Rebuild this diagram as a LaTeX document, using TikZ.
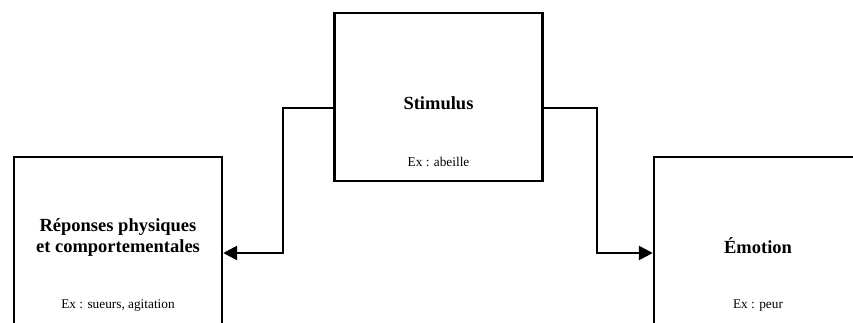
\documentclass[tikz,border=0pt]{standalone}
\usepackage{fontspec}
\setmainfont{Liberation Serif}
\usetikzlibrary{arrows.meta}
\begin{document}
\begin{tikzpicture}[x=1pt,y=-1pt,
  box/.style={draw, line width=2.4pt, minimum width=208pt, minimum height=168pt, inner sep=0pt},
  title/.style={font=\fontsize{18.5}{21}\selectfont\bfseries, align=center, inner sep=0pt},
  example/.style={font=\fontsize{13.3}{16}\selectfont, inner sep=0pt},
  conn/.style={line width=2.6pt, -{Triangle[length=14pt,width=14pt]}}]
  \useasboundingbox (0,0) rectangle (853,322);
  \clip (0,0) rectangle (853,322);
  % the three boxes
  \node[box] (stim) at (438.5,97) {};
  \node[box] (resp) at (118,241) {};
  \node[box] (emo)  at (758,241) {};
  % box texts
  \node[title]   (stimt) at (438.5,103) {Stimulus};
  \node[example] (stime) at (438.5,162) {Ex : abeille};
  \node[title]   (respt) at (118,238) {Réponses physiques\\et comportementales};
  \node[example] (respe) at (118,306) {Ex : sueurs, agitation};
  \node[title]   (emot)  at (758,246) {Émotion};
  \node[example] (emoe)  at (758,306) {Ex : peur};
  % elbow connectors
  \coordinate (lbend) at (283,108);
  \coordinate (rbend) at (597,108);
  \coordinate (larr) at (222,253);
  \coordinate (rarr) at (654,253);
  \draw[conn] (stim.west |- lbend) -- (lbend) |- (resp.east |- larr);
  \draw[conn] (stim.east |- rbend) -- (rbend) |- (emo.west |- rarr);
\end{tikzpicture}
\end{document}
